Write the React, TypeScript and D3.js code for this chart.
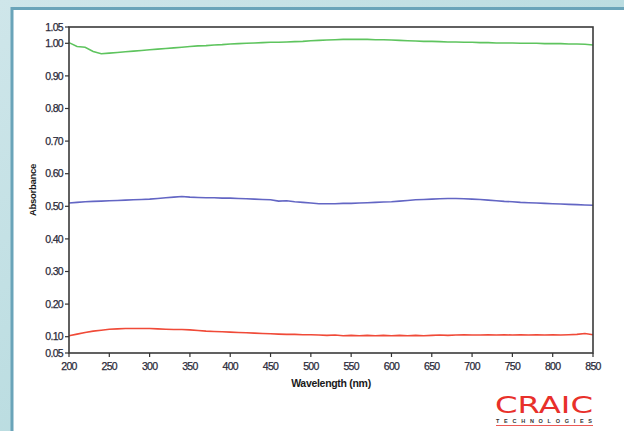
import React from "react";
import * as d3 from "d3";

const wavelengths = [200,210,220,230,240,250,260,270,280,290,300,310,320,330,340,350,360,370,380,390,400,410,420,430,440,450,460,470,480,490,500,510,520,530,540,550,560,570,580,590,600,610,620,630,640,650,660,670,680,690,700,710,720,730,740,750,760,770,780,790,800,810,820,830,840,850];

const greenSeries = [1.002,0.990,0.988,0.975,0.968,0.970,0.972,0.974,0.976,0.978,0.980,0.982,0.984,0.986,0.988,0.990,0.992,0.993,0.995,0.996,0.998,0.999,1.000,1.001,1.002,1.003,1.003,1.004,1.005,1.006,1.008,1.009,1.010,1.011,1.012,1.012,1.012,1.012,1.011,1.011,1.010,1.009,1.008,1.007,1.006,1.006,1.005,1.004,1.004,1.003,1.003,1.002,1.002,1.001,1.001,1.001,1.000,1.000,1.000,0.999,0.999,0.999,0.998,0.998,0.997,0.995];

const blueSeries = [0.510,0.512,0.514,0.515,0.516,0.517,0.518,0.519,0.520,0.521,0.522,0.524,0.526,0.528,0.530,0.528,0.527,0.526,0.526,0.525,0.525,0.524,0.523,0.522,0.521,0.520,0.516,0.517,0.514,0.512,0.510,0.508,0.508,0.508,0.509,0.509,0.510,0.511,0.512,0.513,0.514,0.516,0.518,0.520,0.521,0.522,0.523,0.524,0.524,0.523,0.522,0.521,0.519,0.517,0.515,0.514,0.512,0.511,0.510,0.509,0.508,0.507,0.506,0.505,0.504,0.503];

const redSeries = [0.103,0.108,0.113,0.117,0.120,0.123,0.124,0.125,0.125,0.125,0.125,0.124,0.123,0.122,0.122,0.121,0.119,0.117,0.116,0.115,0.114,0.113,0.112,0.111,0.110,0.109,0.108,0.107,0.107,0.106,0.106,0.105,0.104,0.105,0.103,0.104,0.103,0.104,0.103,0.104,0.103,0.104,0.103,0.104,0.103,0.104,0.105,0.104,0.105,0.106,0.105,0.105,0.106,0.105,0.106,0.105,0.106,0.105,0.106,0.105,0.106,0.105,0.106,0.107,0.110,0.106];

const xTicks = [200,250,300,350,400,450,500,550,600,650,700,750,800,850];
const yTicks = [0.05,0.10,0.20,0.30,0.40,0.50,0.60,0.70,0.80,0.90,1.00,1.05];

const series = [
  { name: "green", values: greenSeries, color: "#5ec45e" },
  { name: "blue", values: blueSeries, color: "#6366c4" },
  { name: "red", values: redSeries, color: "#f04a38" },
];

export default function App() {
  const W = 624, H = 431;
  const left = 69, right = 593, top = 27, bottom = 353;
  const x = d3.scaleLinear().domain([200, 850]).range([left, right]);
  const y = d3.scaleLinear().domain([0.05, 1.05]).range([bottom, top]);
  const line = d3.line<number>().x((_, i) => x(wavelengths[i])).y((v) => y(v));
  const font = "'Liberation Sans', Arial, sans-serif";
  return (
    <svg width={W} height={H} style={{ position: "absolute", left: 0, top: 0, display: "block" }}>
      <defs>
        <linearGradient id="bg" x1="0" y1="0" x2="1" y2="1">
          <stop offset="0" stopColor="#cfe6ea" />
          <stop offset="1" stopColor="#a8d4d8" />
        </linearGradient>
      </defs>
      <rect x={0} y={0} width={W} height={H} fill="url(#bg)" />
      <rect x={12} y={8.5} width={W} height={H} fill="#ffffff" stroke="#6aa4b9" strokeWidth={3} />
      {series.map((s) => (
        <path key={s.name} d={line(s.values) || ""} fill="none" stroke={s.color} strokeWidth={1.6} />
      ))}
      <rect x={left} y={top} width={right - left} height={bottom - top} fill="none" stroke="#3a3a3a" strokeWidth={1.6} />
      {yTicks.map((t) => (
        <g key={t}>
          <line x1={left - 4} x2={left} y1={y(t)} y2={y(t)} stroke="#333" strokeWidth={1.2} />
          <text x={left - 6} y={y(t)} dy="0.35em" textAnchor="end" fontFamily={font} fontSize={10.5} letterSpacing={-0.7} fill="#2a2a3a" stroke="#2a2a3a" strokeWidth={0.25}>
            {t.toFixed(2)}
          </text>
        </g>
      ))}
      {xTicks.map((t) => (
        <g key={t}>
          <line x1={x(t)} x2={x(t)} y1={bottom} y2={bottom + 4} stroke="#333" strokeWidth={1.2} />
          <text x={x(t)} y={bottom + 17} textAnchor="middle" fontFamily={font} fontSize={10.5} letterSpacing={-0.7} fill="#2a2a3a" stroke="#2a2a3a" strokeWidth={0.25}>
            {t}
          </text>
        </g>
      ))}
      <text x={(left + right) / 2} y={387} textAnchor="middle" fontFamily={font} fontSize={10.5} fontWeight="bold" letterSpacing={-0.3} fill="#1a1a1a">
        Wavelength (nm)
      </text>
      <text transform={`translate(36,${(top + bottom) / 2}) rotate(-90)`} textAnchor="middle" fontFamily={font} fontSize={9.5} fontWeight="bold" letterSpacing={-0.3} fill="#1a1a1a">
        Absorbance
      </text>
      <text x={544} y={413} textAnchor="middle" fontFamily="'DejaVu Sans', sans-serif" fontSize={23} fontWeight="normal" fill="#e8302a" textLength={98} lengthAdjust="spacingAndGlyphs">
        CRAIC
      </text>
      <text x={544} y={423} textAnchor="middle" fontFamily={font} fontSize={5.5} fontWeight="bold" fill="#333" textLength={96} lengthAdjust="spacing">
        TECHNOLOGIES
      </text>
      <line x1={496} x2={593} y1={425.5} y2={425.5} stroke="#e8302a" strokeWidth={0.8} />
    </svg>
  );
}
